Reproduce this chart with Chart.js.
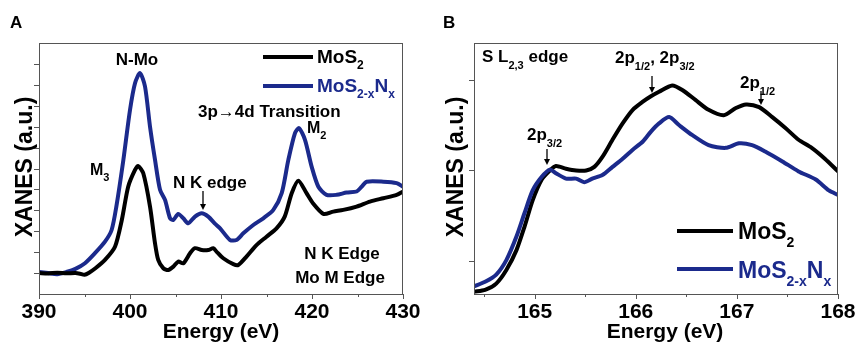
<!DOCTYPE html>
<html><head><meta charset="utf-8">
<script src="https://cdn.jsdelivr.net/npm/chart.js@4/dist/chart.umd.min.js"></script>
<style>
html,body{margin:0;padding:0;background:#fff;}
#wrap{position:relative;width:857px;height:342px;overflow:hidden;background:#fff;}
.c{position:absolute;top:0;height:342px;}
</style></head><body>
<div id="wrap">
<div class="c" style="left:0;width:430px"><canvas id="ca"></canvas></div>
<div class="c" style="left:430px;width:427px"><canvas id="cb"></canvas></div>
</div>
<script>
// ---------- Panel A data (N K edge / Mo M edge) ----------
const aEnergyMoS2 = [390,391,392,393,394,394.5,395,395.5,396.2,397.25,398.35,399.1,399.8,400.55,400.9,401.46,402.2,402.75,403.1,403.66,404.2,404.76,405.3,405.86,406.6,407.14,407.88,408.6,409.15,409.5,410.25,411.35,411.9,412.8,413.9,415.0,416.1,417.0,417.77,418.5,419.4,420.1,421.25,422.34,423.44,424.9,426.37,427.84,429.3,430];
const aMoS2 = [1.0,0.98,1.02,0.99,1.0,0.97,0.92,1.02,1.23,1.63,2.26,3.54,5.13,5.93,6.12,5.77,4.18,2.42,1.63,1.23,1.15,1.31,1.55,1.47,1.95,2.19,2.1,2.1,2.19,2.03,1.71,1.43,1.39,1.79,2.34,2.74,3.14,3.7,4.82,5.42,4.82,4.34,3.83,3.94,4.02,4.18,4.42,4.58,4.74,4.9];
const aEnergyMoSN = [390,391,392,393,394,395.05,396.15,397.25,397.98,398.5,399.27,400.0,400.55,401.1,401.65,402.2,402.75,403.3,403.85,404.4,404.76,405.3,405.86,406.4,407.14,407.88,408.6,409.3,409.9,411.0,411.7,412.45,413.55,414.65,415.75,416.67,417.4,418.13,418.57,419.23,419.96,420.7,421.6,422.7,423.8,424.9,425.46,426.0,427.84,429.3,430];
const aMoSN = [1.05,1.0,0.95,1.05,1.2,1.47,1.95,2.5,3.06,4.18,6.41,8.8,10.08,10.56,9.92,8.0,6.41,4.98,4.5,3.62,3.54,3.83,3.62,3.38,3.7,3.86,3.7,3.38,3.14,2.58,2.58,2.9,3.3,3.62,4.02,4.82,6.41,7.69,7.93,7.37,6.09,5.13,4.74,4.74,4.85,4.9,5.13,5.37,5.37,5.3,5.13];
const aXMajor = [390,400,410,420,430];
const aXMinor = [395,405,415,425];
const aYTicks = [1,2,3,4,5,6,7,8,9,10,11];

// ---------- Panel B data (S L2,3 edge) ----------
const bEnergyMoS2 = [164.4,164.51,164.62,164.72,164.82,164.9,164.98,165.07,165.15,165.21,165.31,165.41,165.51,165.59,165.67,165.77,165.87,165.97,166.07,166.15,166.23,166.36,166.46,166.59,166.72,166.87,166.99,167.09,167.22,167.35,167.48,167.61,167.74,167.87,168.0];
const bMoS2 = [-0.34,-0.32,-0.25,-0.1,0.12,0.38,0.67,0.9,1.0,1.05,1.02,1.0,1.0,1.04,1.15,1.34,1.52,1.67,1.76,1.82,1.87,1.94,1.89,1.78,1.67,1.61,1.69,1.73,1.7,1.59,1.47,1.34,1.25,1.13,0.99];
const bEnergyMoSN = [164.4,164.51,164.62,164.72,164.82,164.9,164.98,165.07,165.15,165.21,165.31,165.41,165.49,165.57,165.67,165.77,165.87,165.97,166.07,166.15,166.23,166.33,166.43,166.56,166.72,166.89,167.02,167.15,167.28,167.45,167.61,167.78,167.91,168.0];
const bMoSN = [-0.28,-0.23,-0.15,0.01,0.27,0.53,0.78,0.93,1.01,0.97,0.91,0.91,0.87,0.91,0.95,1.04,1.13,1.23,1.32,1.43,1.52,1.59,1.5,1.39,1.28,1.25,1.3,1.28,1.21,1.1,0.99,0.9,0.78,0.73];
const bXMajor = [165,166,167,168];
const bXMinor = [164.5,165.5,166.5,167.5];
const bYTicks = [0,1,2];

const BLACK = '#000000';
const BLUE = '#1b2a8c';
const FONT = '"Liberation Sans", Arial, sans-serif';

function pts(xs, ys){ return xs.map((x,i)=>({x:x, y:ys[i]})); }

function rich(ctx, parts, x, y, color, align){
  let w = 0;
  parts.forEach(p=>{ ctx.font = (p[3]||'bold')+' '+p[1]+'px '+FONT; w += ctx.measureText(p[0]).width; });
  let cx = align==='center' ? x - w/2 : (align==='right' ? x - w : x);
  ctx.fillStyle = color; ctx.textAlign='left'; ctx.textBaseline='alphabetic';
  parts.forEach(p=>{ ctx.font = (p[3]||'bold')+' '+p[1]+'px '+FONT; ctx.fillText(p[0], cx, y + (p[2]||0)); cx += ctx.measureText(p[0]).width; });
}
function arrowDown(ctx, x, y1, y2){
  ctx.save(); ctx.strokeStyle='#000'; ctx.fillStyle='#000'; ctx.lineWidth=1.3;
  ctx.beginPath(); ctx.moveTo(x, y1); ctx.lineTo(x, y2-5); ctx.stroke();
  ctx.beginPath(); ctx.moveTo(x-3, y2-6); ctx.lineTo(x+3, y2-6); ctx.lineTo(x, y2); ctx.closePath(); ctx.fill();
  ctx.restore();
}
function frameAndTicks(chart, xMajor, xMinor, yTicks, fmt){
  const {ctx, chartArea:a, scales:{x, y}} = chart;
  ctx.save();
  ctx.strokeStyle = '#555'; ctx.lineWidth = 1;
  ctx.strokeRect(Math.round(a.left)+0.5, Math.round(a.top)+0.5, Math.round(a.right-a.left)-1, Math.round(a.bottom-a.top));
  ctx.beginPath();
  xMajor.forEach(v=>{ const px=Math.round(x.getPixelForValue(v))+0.5; ctx.moveTo(px, a.bottom); ctx.lineTo(px, a.bottom+5); });
  xMinor.forEach(v=>{ const px=Math.round(x.getPixelForValue(v))+0.5; ctx.moveTo(px, a.bottom); ctx.lineTo(px, a.bottom+3); });
  yTicks.forEach(v=>{ const py=Math.round(y.getPixelForValue(v))+0.5; ctx.moveTo(a.left, py); ctx.lineTo(a.left-5, py); });
  ctx.stroke();
  xMajor.forEach(v=>{ rich(ctx, [[fmt(v),21]], x.getPixelForValue(v), 318, '#000', 'center'); });
  ctx.restore();
}
function yTitle(ctx, xBase, yc){
  ctx.save(); ctx.translate(xBase, yc); ctx.rotate(-Math.PI/2);
  rich(ctx, [['XANES (a.u.)',23]], 0, 0, '#000', 'center');
  ctx.restore();
}

const plugA = { id:'decoA', afterDraw(chart){
  const ctx = chart.ctx;
  frameAndTicks(chart, aXMajor, aXMinor, aYTicks, v=>String(v));
  yTitle(ctx, 32, 167);
  rich(ctx, [['Energy (eV)',21]], 221, 338, '#000', 'center');
  rich(ctx, [['A',17,0,'900']], 10, 28, '#000', 'left');
  rich(ctx, [['N-Mo',17]], 137, 65, '#000', 'center');
  rich(ctx, [['M',16],['3',11,6]], 90, 175, '#000', 'left');
  rich(ctx, [['3p\u21924d Transition',17]], 198, 117, '#000', 'left');
  rich(ctx, [['M',16],['2',11,6]], 307, 133, '#000', 'left');
  rich(ctx, [['N K edge',17]], 173, 188, '#000', 'left');
  arrowDown(ctx, 203, 191, 210);
  rich(ctx, [['N K Edge',17]], 342, 259, '#000', 'center');
  rich(ctx, [['Mo M Edge',17]], 340, 283, '#000', 'center');
  ctx.save(); ctx.lineWidth = 4;
  ctx.strokeStyle = BLACK; ctx.beginPath(); ctx.moveTo(263, 57); ctx.lineTo(313, 57); ctx.stroke();
  ctx.strokeStyle = BLUE; ctx.beginPath(); ctx.moveTo(263, 86); ctx.lineTo(313, 86); ctx.stroke();
  ctx.restore();
  rich(ctx, [['MoS',19],['2',12,6]], 317, 63, BLACK, 'left');
  rich(ctx, [['MoS',19],['2-x',12,6],['N',19],['x',12,6]], 317, 92, BLUE, 'left');
}};

const plugB = { id:'decoB', afterDraw(chart){
  const ctx = chart.ctx; const o = 430;
  frameAndTicks(chart, bXMajor, bXMinor, bYTicks, v=>String(v));
  yTitle(ctx, 463-o, 167);
  rich(ctx, [['Energy (eV)',21]], 665-o, 338, '#000', 'center');
  rich(ctx, [['B',17,0,'900']], 443-o, 28, '#000', 'left');
  rich(ctx, [['S L',17],['2,3',11,7],[' edge',17]], 482-o, 62, '#000', 'left');
  rich(ctx, [['2p',17],['1/2',11,7],[', 2p',17],['3/2',11,7]], 615-o, 63, '#000', 'left');
  rich(ctx, [['2p',17],['1/2',11,7]], 740-o, 88, '#000', 'left');
  rich(ctx, [['2p',17],['3/2',11,7]], 527-o, 140, '#000', 'left');
  arrowDown(ctx, 652-o, 76, 93);
  arrowDown(ctx, 761-o, 91, 105);
  arrowDown(ctx, 547-o, 149, 165);
  ctx.save(); ctx.lineWidth = 4;
  ctx.strokeStyle = BLACK; ctx.beginPath(); ctx.moveTo(677-o, 231); ctx.lineTo(733-o, 231); ctx.stroke();
  ctx.strokeStyle = BLUE; ctx.beginPath(); ctx.moveTo(677-o, 269); ctx.lineTo(733-o, 269); ctx.stroke();
  ctx.restore();
  rich(ctx, [['MoS',23],['2',14,8]], 738-o, 239, BLACK, 'left');
  rich(ctx, [['MoS',23],['2-x',14,8],['N',23],['x',14,8]], 738-o, 278, BLUE, 'left');
}};

function makeChart(id, dsets, xmin, xmax, ymin, ymax, pad, plug){
  return new Chart(document.getElementById(id), {
    type: 'line',
    data: { datasets: dsets },
    options: {
      responsive: true, maintainAspectRatio: false, animation: false, devicePixelRatio: 1,
      layout: { padding: pad },
      plugins: { legend: { display: false }, tooltip: { enabled: false } },
      elements: { point: { radius: 0 }, line: { tension: 0.25, borderCapStyle: 'round', borderJoinStyle: 'round' } },
      scales: {
        x: { type: 'linear', min: xmin, max: xmax, display: false },
        y: { type: 'linear', min: ymin, max: ymax, display: false }
      }
    },
    plugins: [plug]
  });
}

makeChart('ca', [
  { label: 'MoS2', data: pts(aEnergyMoS2, aMoS2), borderColor: BLACK, borderWidth: 4, fill: false, order: 0 },
  { label: 'MoS2-xNx', data: pts(aEnergyMoSN, aMoSN), borderColor: BLUE, borderWidth: 4, fill: false, order: 1 }
], 390, 430, 0, 12, {left: 39, top: 43, right: 27, bottom: 48}, plugA);

makeChart('cb', [
  { label: 'MoS2', data: pts(bEnergyMoS2, bMoS2), borderColor: BLACK, borderWidth: 4, fill: false, order: 1 },
  { label: 'MoS2-xNx', data: pts(bEnergyMoSN, bMoSN), borderColor: BLUE, borderWidth: 4, fill: false, order: 0 }
], 164.4, 168, -0.365, 2.409, {left: 44, top: 43, right: 19, bottom: 48}, plugB);
</script>
</body></html>
